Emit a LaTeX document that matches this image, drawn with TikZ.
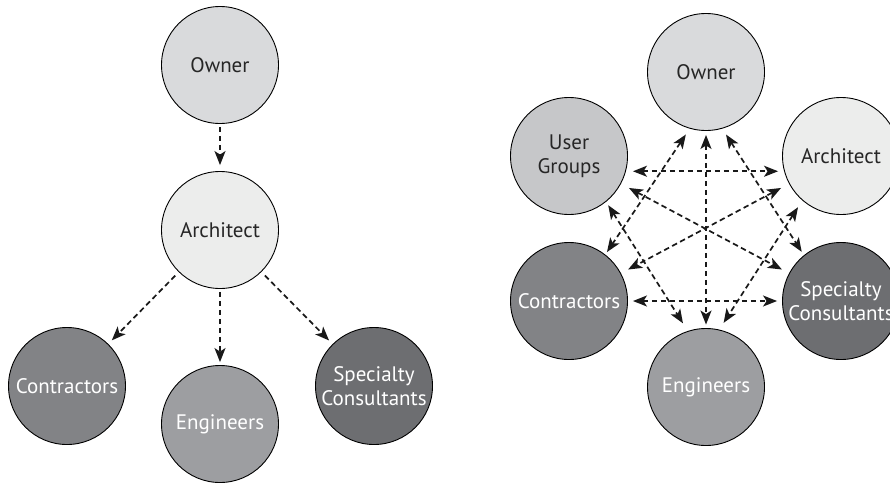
\documentclass[tikz,border=0pt]{standalone}
\usepackage{fontspec}
\setmainfont{PT Sans}
\usetikzlibrary{arrows.meta}
\definecolor{ownergray}{HTML}{D9DADC}
\definecolor{archgray}{HTML}{ECEDEC}
\definecolor{usergray}{HTML}{C6C7C9}
\definecolor{contrgray}{HTML}{828386}
\definecolor{enggray}{HTML}{9D9EA1}
\definecolor{specgray}{HTML}{6D6E71}
\tikzstyle{party}=[circle, draw=black, line width=0.9pt, minimum size=117pt, inner sep=0pt, align=center, font=\fontsize{21}{24}\selectfont]
\tikzstyle{light}=[party, text=black!85]
\tikzstyle{dark}=[party, text=white]
\tikzstyle{link}=[dash pattern=on 5.5pt off 3.5pt, line width=1.7pt, black!90, -{Stealth[length=14pt,width=11pt,inset=3.5pt]}, shorten <=5pt, shorten >=5pt]
\tikzstyle{both}=[link, {Stealth[length=14pt,width=11pt,inset=3.5pt]}-{Stealth[length=14pt,width=11pt,inset=3.5pt]}]

\begin{document}
\begin{tikzpicture}[x=1pt, y=-1pt]
	\useasboundingbox (0,0) rectangle (890,485);

	% hierarchy
	\node[light, fill=ownergray](own1) at (220,65){Owner};
	\node[light, fill=archgray](arc1) at (220,230){Architect};
	\node[dark, fill=contrgray](con1) at (67,386){Contractors};
	\node[dark, fill=enggray](eng1) at (220,424){Engineers};
	\node[dark, fill=specgray](spc1) at (374,386){Specialty\\Consultants};

	\draw[link, shorten <=3pt, shorten >=6pt] (own1) -- (arc1);
	\draw[link] (arc1) -- (con1);
	\draw[link, shorten <=3pt, shorten >=3pt] (arc1) -- (eng1);
	\draw[link] (arc1) -- (spc1);

	% team around the project
	\node[light, fill=ownergray](own2) at (706,72){Owner};
	\node[light, fill=usergray](usr2) at (569,156){User\\Groups};
	\node[light, fill=archgray](arc2) at (841,156){Architect};
	\node[dark, fill=contrgray](con2) at (569,301){Contractors};
	\node[dark, fill=specgray](spc2) at (841,301){Specialty\\Consultants};
	\node[dark, fill=enggray](eng2) at (706,387){Engineers};

	\draw[both, shorten <=4pt, shorten >=3.5pt] (own2) -- (eng2);
	\draw[both, shorten <=9pt, shorten >=8pt] (usr2) -- (spc2);
	\draw[both, shorten <=9pt, shorten >=8pt] (arc2) -- (con2);
	\draw[both, shorten <=7pt, shorten >=6pt] (usr2.-15) -- (arc2.195);
	\draw[both] (con2) -- (spc2);
	\draw[both, shorten <=7pt, shorten >=3pt] (own2.254) -- (con2.52);
	\draw[both, shorten <=7pt, shorten >=4pt] (own2.286) -- (spc2.129);
	\draw[both, shorten <=4pt, shorten >=9pt] (usr2.309) -- (eng2.108);
	\draw[both, shorten <=8pt, shorten >=8pt] (arc2.229) -- (eng2.77);

\end{tikzpicture}
\end{document}
